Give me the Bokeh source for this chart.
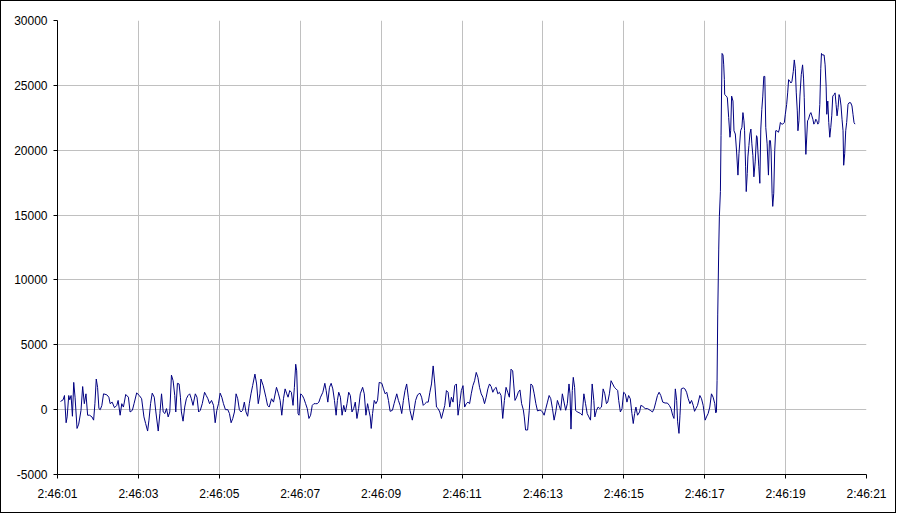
from bokeh.plotting import figure
from bokeh.models import Range1d, FixedTicker
from bokeh.embed import file_html
from bokeh.resources import INLINE

# time in seconds after 2:46:00
seconds = [
1.074,1.139,1.172,1.213,1.238,1.278,1.303,1.336,1.369,1.401,1.434,1.483,1.524,1.581,1.622,1.663,1.704,1.745,1.794,1.852,
1.893,1.925,1.958,1.991,2.024,2.057,2.097,2.138,2.220,2.269,2.302,2.351,2.409,2.466,2.499,2.548,2.589,2.630,2.687,2.753,
2.794,2.851,2.892,2.957,3.023,3.080,3.137,3.179,3.228,3.261,3.301,3.342,3.392,3.432,3.490,3.531,3.572,3.613,3.654,3.695,
3.736,3.776,3.817,3.858,3.899,3.924,3.965,4.006,4.039,4.063,4.104,4.145,4.186,4.227,4.268,4.309,4.350,4.407,4.448,4.489,
4.530,4.579,4.636,4.677,4.718,4.759,4.808,4.857,4.898,4.939,4.980,5.021,5.062,5.103,5.152,
5.210,5.251,5.292,5.333,5.374,5.415,5.455,5.496,5.537,5.578,5.619,5.660,5.701,5.742,5.783,5.824,5.881,5.922,5.963,6.004,
6.029,6.086,6.152,6.193,6.234,6.291,6.340,6.414,6.463,6.504,6.545,6.586,6.627,6.668,6.700,6.741,6.782,6.823,6.856,6.889,
6.913,6.946,6.971,7.012,7.053,7.093,7.134,7.175,7.216,7.257,7.298,7.339,7.380,7.421,7.462,7.503,7.560,7.609,7.642,7.683,
7.724,7.765,7.806,7.847,7.888,7.920,7.953,7.994,8.035,8.076,8.117,8.158,8.199,8.240,8.280,8.321,8.362,8.403,8.444,8.485,
8.543,8.584,8.625,8.666,8.690,8.731,8.756,8.789,8.830,8.871,8.912,8.953,9.018,9.059,9.100,9.141,9.182,9.223,9.280,9.321,
9.387,9.428,9.469,9.510,9.551,9.591,9.632,9.673,9.714,9.772,9.821,9.853,9.902,9.960,10.001,10.042,10.083,10.124,10.165,10.206,
10.246,10.287,10.328,10.369,10.410,10.451,10.492,10.533,10.574,10.615,10.656,10.697,10.738,10.779,10.820,10.861,10.902,10.943,10.984,11.025,
11.066,11.106,11.147,11.188,11.229,11.270,11.311,11.352,11.393,11.434,11.475,11.516,11.557,11.598,11.639,11.680,11.721,11.762,11.803,11.844,
11.885,11.925,11.966,12.007,12.048,12.089,12.130,12.171,12.212,12.253,12.278,12.310,12.351,12.392,12.433,12.474,12.515,12.540,12.572,12.622,
12.663,12.703,12.744,12.785,12.826,12.867,12.908,12.949,12.990,13.031,13.072,13.113,13.154,13.195,13.236,13.277,13.318,13.359,13.400,13.440,13.481,
13.563,13.604,13.645,13.670,13.694,13.727,13.751,13.784,13.809,13.850,13.891,13.931,13.972,14.013,14.054,14.095,14.136,14.177,14.218,14.259,
14.284,14.325,14.366,14.407,14.448,14.489,14.530,14.571,14.603,14.644,14.685,14.726,14.767,14.808,14.849,14.874,14.915,14.956,14.996,15.037,
15.078,15.119,15.160,15.201,15.234,15.267,15.300,15.340,15.390,15.422,15.471,15.529,15.586,15.652,15.709,15.750,15.791,15.832,15.873,15.914,
15.963,16.020,16.077,16.126,16.167,16.208,16.241,16.274,16.307,16.331,16.364,16.389,16.421,16.470,16.511,16.552,16.593,16.634,16.675,16.716,
16.749,16.782,16.823,16.880,16.921,16.962,17.011,17.044,17.085,17.126,17.167,17.208,17.249,17.273,17.290,
17.306,17.322,17.347,17.363,17.388,17.404,17.429,17.453,17.470,17.486,17.494,17.535,17.560,17.593,17.625,17.642,17.666,17.699,17.724,17.757,
17.789,17.822,17.847,17.888,17.920,17.945,17.970,17.986,18.011,18.027,18.052,18.068,18.093,18.117,18.142,18.166,18.191,18.216,18.248,18.281,
18.297,18.314,18.338,18.363,18.387,18.412,18.436,18.461,18.486,18.510,18.543,18.576,18.600,18.625,18.641,18.666,18.682,18.707,18.731,18.756,
18.789,18.822,18.846,18.871,18.903,18.928,18.969,18.993,19.026,19.051,19.075,19.108,19.133,19.157,19.190,19.215,19.239,19.264,19.289,19.305,
19.330,19.354,19.387,19.420,19.444,19.461,19.485,19.501,19.526,19.543,19.567,19.600,19.625,19.649,19.674,19.698,19.723,19.747,19.772,19.797,
19.821,19.846,19.870,19.887,19.911,19.952,19.977,20.002,20.018,20.043,20.067,20.092,20.117,20.141,20.166,20.199,20.223,20.248,20.272,20.297,
20.322,20.346,20.371,20.395,20.420,20.436,20.461,20.486,20.510,20.543,20.568,20.609,20.641,20.666,20.691,20.715,
]

values = [
630,760,1090,-1010,-560,1090,760,1090,-510,2100,960,-1450,-1120,-50,1780,460,1220,-430,-430,-560,
-810,460,2360,1720,80,0,330,1220,1140,960,460,580,150,330,710,-430,460,200,1170,960,
-180,-50,460,1290,1090,840,-560,-1070,-1650,-810,460,1270,960,-180,-1650,-300,1220,-180,-300,80,
-560,-180,2660,2230,1090,-180,2030,1980,960,-180,-890,200,840,1090,1220,840,330,1220,960,-180,
-50,460,1340,1090,840,460,710,330,-1010,-50,460,1270,960,460,0,
0,-300,-1010,-680,-180,1220,840,0,-180,-50,580,-180,-510,460,1220,1850,2740,1980,460,1220,
2360,1850,960,330,200,840,580,1720,1220,710,-430,840,1600,1220,960,1470,1340,330,1720,3500,
2990,-300,-430,1220,1090,840,460,80,-680,-430,330,460,460,460,580,960,1340,2030,1470,580,
1720,2030,1600,710,-430,710,1340,960,-430,330,-180,460,1340,1090,-180,80,580,-680,80,1220,
1720,1220,-430,460,80,-560,-1450,-300,710,460,710,2100,2030,1600,1220,1340,710,-130,-50,460,
1220,710,330,-300,710,1470,1980,960,-50,-810,80,710,1140,1270,960,330,460,580,580,1340,
1980,3370,1980,200,80,-180,-680,-180,330,1470,1340,200,960,580,1850,1980,-430,460,1470,1850,
200,460,580,460,1220,1850,2230,2870,2490,1720,1220,960,460,960,1600,1980,1780,1340,1600,1720,
1220,1340,1090,-680,710,1720,1340,960,3120,2990,1980,710,960,1340,1520,460,0,-560,-1570,-1570,
-50,1980,1850,1220,460,-100,-50,-50,-180,-430,80,580,1090,840,80,-810,-180,710,330,-50,1220,
-50,460,1980,1220,-1500,1470,2490,1720,-50,-180,-230,-300,-430,1220,460,-300,-560,-810,1980,710,
-560,-50,200,80,200,1600,1220,460,580,1220,2230,1980,1720,1600,1470,710,-180,80,1340,1220,
580,1090,840,-300,-1070,-300,200,-430,-180,330,250,80,80,-50,-180,80,580,1090,1340,1090,
580,510,510,330,80,-430,-680,1600,710,-940,-1830,-430,1600,1670,1600,1340,840,460,710,330,
-130,80,330,1090,840,330,-810,-560,-300,200,1220,960,460,-250,-180,
2230,7300,12380,14910,16810,21120,27460,27340,26580,25440,24290,24170,24040,22520,21000,21500,24170,23790,21500,21250,
19860,18080,19730,21500,21760,22900,22270,21500,18720,16810,18210,19480,20360,21250,21630,20490,19600,17950,19100,21120,
21000,19980,18720,17450,21630,23150,24170,25690,25690,21760,20490,18080,20740,20740,19980,16690,15670,16690,19980,21500,
21500,21380,21630,22140,22010,22010,22140,22770,23530,24420,25440,25310,25180,25310,26070,26960,26320,24420,23030,21500,
22270,24170,25820,26580,25560,24040,21250,19680,21250,22270,22390,22770,22900,22650,22390,22010,22140,22390,22270,22010,
22140,23530,26320,27460,27340,27340,26580,24930,22770,23790,22140,21000,21760,22650,24170,24290,24420,23530,22650,23280,
24290,24040,23410,22390,21500,18840,19730,21500,22140,23530,23660,23660,23410,22770,22140,22010,
]

x_ticks = [1, 3, 5, 7, 9, 11, 13, 15, 17, 19, 21]
x_tick_labels = ["2:46:01", "2:46:03", "2:46:05", "2:46:07", "2:46:09", "2:46:11",
                 "2:46:13", "2:46:15", "2:46:17", "2:46:19", "2:46:21"]
y_ticks = [-5000, 0, 5000, 10000, 15000, 20000, 25000, 30000]
y_tick_labels = ["-5000", "0", "5000", "10000", "15000", "20000", "25000", "30000"]

p = figure(width=896, height=513, output_backend="svg", toolbar_location=None,
           x_range=Range1d(1, 21), y_range=Range1d(-5000, 30000),
           min_border_left=56, min_border_right=31, min_border_top=19, min_border_bottom=40,
           background_fill_color="white", border_fill_color="white")
p.styles = {"border": "1px solid black"}
p.outline_line_color = None

p.line(x=seconds, y=values, line_color="#000080", line_width=1)

font = "Liberation Sans"
for ax, ticks, labels in ((p.xaxis[0], x_ticks, x_tick_labels), (p.yaxis[0], y_ticks, y_tick_labels)):
    ax.ticker = FixedTicker(ticks=ticks)
    ax.major_label_overrides = {t: l for t, l in zip(ticks, labels)}
    ax.axis_line_color = "black"
    ax.major_tick_line_color = "black"
    ax.major_tick_out = 4
    ax.major_tick_in = 0
    ax.minor_tick_line_color = None
    ax.major_label_text_font = font
    ax.major_label_text_font_size = "12px"
    ax.major_label_text_color = "black"
p.xaxis.major_label_standoff = 8
p.yaxis.major_label_standoff = 6

p.xgrid.ticker = FixedTicker(ticks=x_ticks)
p.ygrid.ticker = FixedTicker(ticks=y_ticks)
p.xgrid.grid_line_color = "#c0c0c0"
p.ygrid.grid_line_color = "#c0c0c0"

open("out.html", "w").write(file_html(p, INLINE))
